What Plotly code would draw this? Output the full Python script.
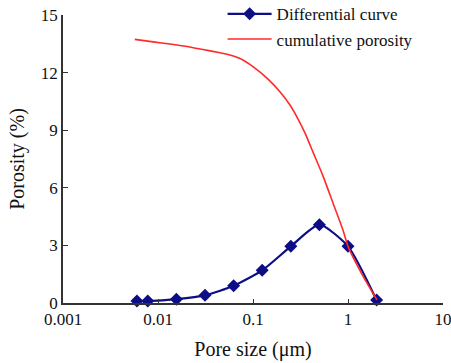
import plotly.graph_objects as go

# Differential curve (pore size in µm, porosity in %)
diff_x = [0.006, 0.0078, 0.0156, 0.03125, 0.0625, 0.125, 0.25, 0.5, 1.0, 2.0]
diff_y = [0.1, 0.1, 0.2, 0.4, 0.9, 1.7, 2.95, 4.08, 2.95, 0.15]

# Cumulative porosity curve
cum_x = [0.0057, 0.0089, 0.0134, 0.0202, 0.0298, 0.045, 0.0573, 0.073, 0.1007, 0.145,
         0.192, 0.245, 0.298, 0.353, 0.428, 0.546, 0.695, 0.885, 1.0, 1.40, 2.02]
cum_y = [13.73, 13.6, 13.49, 13.36, 13.2, 13.03, 12.92, 12.73, 12.3, 11.65,
         11.0, 10.31, 9.58, 8.85, 7.86, 6.61, 5.21, 3.80, 2.95, 1.51, 0.16]

x_ticks = [0.001, 0.01, 0.1, 1, 10]
x_tick_text = ["0.001", "0.01", "0.1", "1", "10"]
y_ticks = [0, 3, 6, 9, 12, 15]

FONT = "Times New Roman, Liberation Serif, DejaVu Serif, serif"

fig = go.Figure()
fig.add_trace(go.Scatter(
    x=diff_x, y=diff_y, mode="lines+markers", name="Differential curve",
    line=dict(color="#0d0d85", width=2.2, shape="spline", smoothing=0.6),
    marker=dict(symbol="diamond", size=10, color="#0d0d85"),
    cliponaxis=False,
))
fig.add_trace(go.Scatter(
    x=cum_x, y=cum_y, mode="lines", name="cumulative porosity",
    line=dict(color="#ff2a2a", width=1.6, shape="spline", smoothing=0.6),
    cliponaxis=False,
))

fig.update_layout(
    width=451, height=363,
    margin=dict(l=63, r=8, t=15, b=60, autoexpand=False),
    paper_bgcolor="white", plot_bgcolor="white",
    font=dict(family=FONT, size=17, color="#111111"),
    showlegend=True,
    legend=dict(x=0.42, y=1.065, xanchor="left", yanchor="top",
                bgcolor="rgba(0,0,0,0)", font=dict(size=17, family=FONT),
                itemwidth=44, tracegroupgap=0),
)
fig.update_xaxes(
    type="log", range=[-3, 1], tickvals=x_ticks, ticktext=x_tick_text,
    showgrid=False, zeroline=False, showline=True, linecolor="#333333", linewidth=1.5,
    ticks="inside", ticklen=4, tickcolor="#333333", automargin=False,
    tickfont=dict(size=17, family=FONT), ticklabeloverflow="allow",
    title=dict(text="Pore size (μm)", font=dict(size=20, family=FONT), standoff=14),
)
fig.update_yaxes(
    range=[0, 15], tickvals=y_ticks, automargin=False,
    showgrid=False, zeroline=False, showline=True, linecolor="#333333", linewidth=1.5,
    ticks="inside", ticklen=5, tickcolor="#333333",
    tickfont=dict(size=17, family=FONT),
    title=dict(text="Porosity (%)", font=dict(size=20, family=FONT), standoff=11),
)

fig.write_html("out.html")
